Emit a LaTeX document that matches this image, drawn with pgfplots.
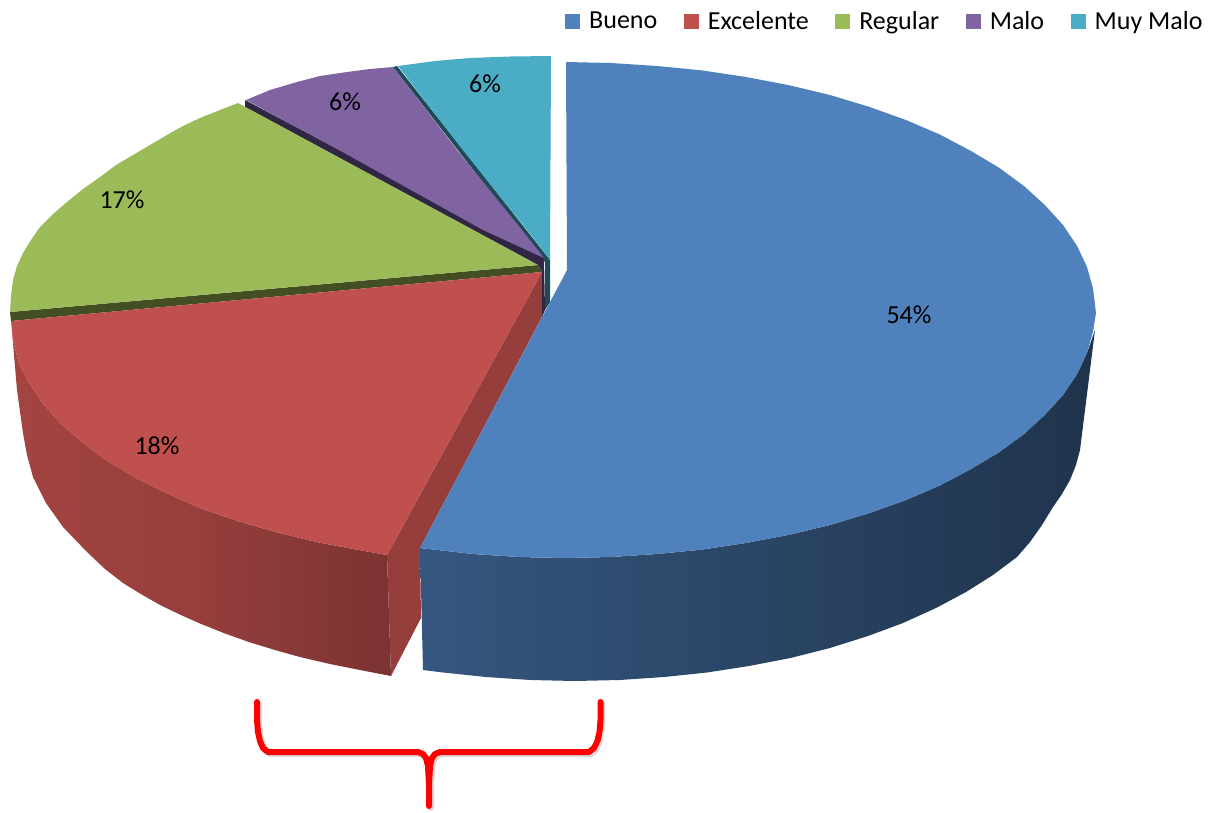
\documentclass[border=0pt]{standalone}
\usepackage{pgfplots}
\pgfplotsset{compat=1.18}
\usepackage{fontspec}
\setmainfont{Carlito}
\definecolor{cBlue}{HTML}{4F81BD}
\definecolor{cRed}{HTML}{C0504D}
\definecolor{cGreen}{HTML}{9BBB59}
\definecolor{cPurple}{HTML}{8064A2}
\definecolor{cTeal}{HTML}{4BACC6}
\definecolor{dGreen}{HTML}{434E22}
\definecolor{dPurple}{HTML}{312745}
\definecolor{dTeal}{HTML}{1E4B58}
\begin{document}
\begin{tikzpicture}[x=1pt,y=1pt]
\useasboundingbox (0,0) rectangle (1210pt,812pt);
\begin{axis}[
  at={(0,0)},anchor=south west,
  width=1210pt,height=812pt,scale only axis,
  xmin=0,xmax=1210,ymin=0,ymax=812,y dir=reverse,
  hide axis,clip=false,
  every axis plot/.append style={draw=none,line width=0pt,forget plot},
  legend columns=-1,
  legend style={at={(axis cs:565,21)},anchor=west,draw=none,fill=none,inner sep=0pt,
    font=\fontsize{26}{28}\selectfont,
    /tikz/every odd column/.append style={column sep=7pt},
    /tikz/every even column/.append style={column sep=24.5pt}},
  legend image code/.code={\fill[#1] (0pt,-7.5pt) rectangle (15pt,7.5pt);},
]
% side walls
\addplot[left color=cRed!85!black,right color=cRed!64!black,middle color=cRed!78!black,shading=axis] coordinates {
(12,321)(13,343)(17,390)(23,433)(27,455)(33,477)(46,503)(63,527)(87,552)(105,569)(123,583)(140,593.5)(160,605)(180,614.6)(200,623.5)(225,633.5)(250,642.4)(275,650)(300,657)(330,664)(360,670)(391,676)
(387,555)(359,550)(316.4,542)(275.5,532)(236.6,520.7)(200,508)(166,493)(135,477.5)(106.7,460.5)(82,442)(60.6,423.5)(43,404)(29,383)(19,363)(13,341)(12,321)};
\addplot[fill=cRed!78!black] coordinates {(542,272)(387,555)(391,676)(421,618)(420,548)(542,317)(542,272)};
\addplot[left color=cBlue!67!black,middle color=cBlue!42!black,right color=cBlue!40!black,shading=axis] coordinates {
(1095,330)(1090,370)(1085,410)(1080,450)(1076,465)(1070,480)(1062,494)(1053,507)(1042,525)(1030,542)(1017,557)(993,575)(966,592)(936,608)(903,623)(868,636)(830,648)(790.5,658)(749,666)(707,672.5)(664,677)(619.5,680)(575,681)(530.5,680)(486,677)(443,672.5)(423,670)
(420,548)(473,554)(519,557)(565,558)(611,557)(657,554)(702,549.6)(746,543)(789,534.8)(830,525)(869,513.2)(906,500)(940,485.4)(971,469)(999,452.3)(1024,434)(1045,414.8)(1063,395)(1077,374.2)(1087,353)(1095,330)};
% cut faces of the back slices
\addplot[fill=dTeal] coordinates {(397,66)(550,260)(550,302)(545,310)(545,262)(393,67)(397,66)};
\addplot[fill=dPurple] coordinates {(245,100)(544,258)(545,310)(542,317)(542,272)(538,265)(245,107)(245,100)};
\addplot[fill=dGreen] coordinates {(10,312)(538,265)(542,272)(11,321)(10,312)};
% top faces
\addplot[fill=cRed] coordinates {(542,272)(387,555)(359,550)(316.4,542)(275.5,532)(236.6,520.7)(200,508)(166,493)(135,477.5)(106.7,460.5)(82,442)(60.6,423.5)(43,404)(29,383)(19,363)(13,341)(11,321)(542,272)};
\addplot[fill=cGreen] coordinates {(538,265)(10,312)(11,296)(13,280)(17,266)(23,253)(31,240)(40,227)(53,214)(67,202)(83,189)(100,177)(116,165)(133,155)(150,145)(167,135)(183,126)(200,118)(220,110)(238,103)(538,265)};
\addplot[fill=cPurple] coordinates {(544,258)(483,230)(337,149)(246,100)(270,90)(297,82)(320,76)(347,72)(370,69)(393,67)(457,150)(522,230)(544,258)};
\addplot[fill=cTeal] coordinates {(550,260)(527,230)(462,149)(398,66)(435,61)(470,58)(510,56.5)(551,56)(550,260)};
\addplot[fill=cBlue] coordinates {(567,270)(566,62)(611,63)(657,66)(702,70.4)(746,77)(789,85.2)(830,95)(869,106.8)(906,120)(940,134.6)(971,151)(999,167.7)(1024,186)(1045,205.2)(1063,225)(1077,245.8)(1087,267)(1093,288.4)(1096,313)(1093,331.6)(1087,353)(1077,374.2)(1063,395)(1045,414.8)(1024,434)(999,452.3)(971,469)(940,485.4)(906,500)(869,513.2)(830,525)(789,534.8)(746,543)(702,549.6)(657,554)(611,557)(565,558)(519,557)(473,554)(420,548)(567,270)};
% bracket
\addplot[draw=black,draw opacity=0.15,line width=6pt,line join=round,line cap=round,no markers] coordinates {
(602,704)(602,722)(601,734)(599,743)(596,750)(591,754)(442,754)(437,756)(434,760)(432,768)(431,787)(431,808)(431,787)(430,768)(428,760)(425,756)(420,754)(270,754)(265,750)(262,743)(260,734)(259,722)(259,704)};
\addplot[draw=red,line width=6pt,line join=round,line cap=round,no markers] coordinates {
(600.5,702)(600.5,720)(599.5,732)(597.5,741)(594,748)(589,752)(440,752)(435,754)(432,758)(430,766)(429,785)(429,806)(429,785)(428,766)(426,758)(423,754)(418,752)(268,752)(263,748)(260,741)(258,732)(257,720)(257,702)};
\addlegendimage{cBlue}\addlegendentry{Bueno}
\addlegendimage{cRed}\addlegendentry{Excelente}
\addlegendimage{cGreen}\addlegendentry{Regular}
\addlegendimage{cPurple}\addlegendentry{Malo}
\addlegendimage{cTeal}\addlegendentry{Muy Malo}
\node[font=\fontsize{26}{28}\selectfont] at (axis cs:909,315) {54\%};
\node[font=\fontsize{26}{28}\selectfont] at (axis cs:157,446) {18\%};
\node[font=\fontsize{26}{28}\selectfont] at (axis cs:122,200) {17\%};
\node[font=\fontsize{26}{28}\selectfont] at (axis cs:345,102) {6\%};
\node[font=\fontsize{26}{28}\selectfont] at (axis cs:485,84) {6\%};
\end{axis}
\end{tikzpicture}
\end{document}
